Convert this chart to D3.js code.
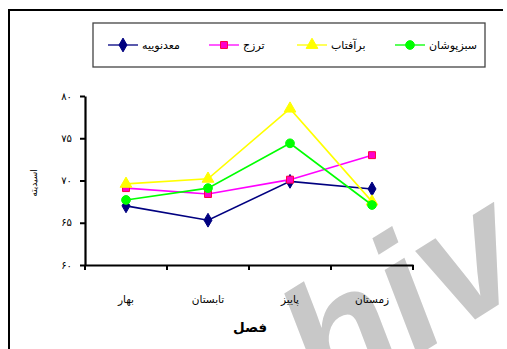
<!DOCTYPE html>
<html>
<head>
<meta charset="utf-8">
<script src="https://cdn.jsdelivr.net/npm/d3@7"></script>
<style>
  html, body { margin: 0; padding: 0; background: #fff; }
  svg { display: block; }
  text { font-family: "DejaVu Sans", "Noto Sans", sans-serif; }
</style>
</head>
<body>
<svg id="chart" width="507" height="349"></svg>
<script>
// Seasons on the x axis
const seasons = ["بهار", "تابستان", "پاییز", "زمستان"];
// Series names (legend order, left to right)
const seriesNames = ["معدنوییه", "ترزج", "برآفتاب", "سبزپوشان"];
// Acidity values per season for each series
const madanooyeh = [67.0, 65.3, 69.9, 69.0];
const tarzaj     = [69.1, 68.4, 70.1, 73.0];
const barAftab   = [69.6, 70.2, 78.5, 67.5];
const sabzpooshan = [67.7, 69.1, 74.4, 67.1];
// Y tick values and their Persian labels
const yTicks = [60, 65, 70, 75, 80];
const yTickLabels = ["۶۰", "۶۵", "۷۰", "۷۵", "۸۰"];
const xTitle = "فصل";
const yTitle = "اسیدیته";

const series = [
  { name: seriesNames[0], values: madanooyeh, color: "#000080", marker: "diamond", fill: "#000080", stroke: "#000080" },
  { name: seriesNames[1], values: tarzaj, color: "#ff00ff", marker: "square", fill: "#ff00cc", stroke: "#ff0040" },
  { name: seriesNames[2], values: barAftab, color: "#ffff00", marker: "triangle", fill: "#ffff00", stroke: "#ffff00" },
  { name: seriesNames[3], values: sabzpooshan, color: "#00ff00", marker: "circle", fill: "#00ff00", stroke: "#00ff00" }
];

const svg = d3.select("#chart");

// Watermark behind the chart
svg.append("text")
  .attr("transform", "translate(327,412) rotate(-32)")
  .attr("font-size", 170)
  .attr("font-style", "italic")
  .attr("font-weight", "bold")
  .attr("fill", "#c8c8c8")
  .style("font-family", "Liberation Sans, Arial, sans-serif")
  .text("hiv");

// Outer frame (top and left edges visible)
svg.append("path")
  .attr("d", "M9,349 V10 H503")
  .attr("fill", "none")
  .attr("stroke", "#000")
  .attr("stroke-width", 2);

const plot = { left: 85, right: 413, top: 96, bottom: 265 };

const x = d3.scaleBand().domain(seasons).range([plot.left, plot.right]);
const y = d3.scaleLinear().domain([60, 80]).range([plot.bottom, plot.top]);

// Y axis
const yAxis = d3.axisLeft(y)
  .tickValues(yTicks)
  .tickFormat((d, i) => yTickLabels[i])
  .tickSizeInner(5).tickSizeOuter(0).tickPadding(8);
const gy = svg.append("g").attr("transform", `translate(${plot.left},0)`).call(yAxis);
gy.select(".domain").attr("stroke", "#000").attr("stroke-width", 2.2);
gy.selectAll(".tick line").attr("stroke", "#000").attr("stroke-width", 2);
gy.selectAll(".tick text").attr("font-size", 10).attr("fill", "#000");

// X axis: ticks at category boundaries, labels centred in each band
const boundaries = seasons.map(s => x(s)).concat([x.range()[1]]);
const xAxis = d3.axisBottom(x).tickSize(0).tickPadding(31);
const gx = svg.append("g").attr("transform", `translate(0,${plot.bottom})`).call(xAxis);
gx.select(".domain").attr("stroke", "#000").attr("stroke-width", 2.2);
gx.selectAll(".tick text").attr("font-size", 10.5).attr("fill", "#000");
gx.selectAll("line.bound").data(boundaries).enter().append("line")
  .attr("class", "bound")
  .attr("x1", d => d).attr("x2", d => d)
  .attr("y1", 0).attr("y2", 5)
  .attr("stroke", "#000").attr("stroke-width", 2);

// Axis titles
svg.append("text")
  .attr("x", 250).attr("y", 332)
  .attr("text-anchor", "middle")
  .attr("font-size", 13.5).attr("font-weight", "bold")
  .text(xTitle);
svg.append("text")
  .attr("transform", "translate(37,183) rotate(-90)")
  .attr("text-anchor", "middle")
  .attr("font-size", 9)
  .text(yTitle);

// Marker shapes
const symbolType = {
  diamond: d3.symbolDiamond,
  square: d3.symbolSquare,
  triangle: d3.symbolTriangle,
  circle: d3.symbolCircle
};
const symbolSize = { diamond: 55, square: 48, triangle: 60, circle: 60 };

const cx = d => x(d) + x.bandwidth() / 2;
const line = d3.line().x((d, i) => cx(seasons[i])).y(d => y(d));

series.forEach(s => {
  const g = svg.append("g");
  g.append("path")
    .attr("d", line(s.values))
    .attr("fill", "none")
    .attr("stroke", s.color)
    .attr("stroke-width", 1.6);
  g.selectAll("path.m").data(s.values).enter().append("path")
    .attr("class", "m")
    .attr("transform", (d, i) => `translate(${cx(seasons[i])},${y(d)})`)
    .attr("d", d3.symbol().type(symbolType[s.marker]).size(symbolSize[s.marker]))
    .attr("fill", s.fill)
    .attr("stroke", s.stroke)
    .attr("stroke-width", 1);
});

// Legend
const legend = svg.append("g");
legend.append("rect")
  .attr("x", 93).attr("y", 23).attr("width", 392).attr("height", 44)
  .attr("fill", "#fff").attr("stroke", "#444").attr("stroke-width", 1.3);
const legendX = [108, 209, 297, 395];
series.forEach((s, i) => {
  const lx = legendX[i], ly = 45;
  legend.append("line")
    .attr("x1", lx).attr("x2", lx + 30).attr("y1", ly).attr("y2", ly)
    .attr("stroke", s.color).attr("stroke-width", 1.3);
  legend.append("path")
    .attr("transform", `translate(${lx + 15},${ly})`)
    .attr("d", d3.symbol().type(symbolType[s.marker]).size(symbolSize[s.marker]))
    .attr("fill", s.fill).attr("stroke", s.stroke).attr("stroke-width", 1);
  legend.append("text")
    .attr("x", lx + 34).attr("y", ly + 4)
    .attr("font-size", 11)
    .attr("text-anchor", "start")
    .text(s.name);
});
</script>
</body>
</html>
